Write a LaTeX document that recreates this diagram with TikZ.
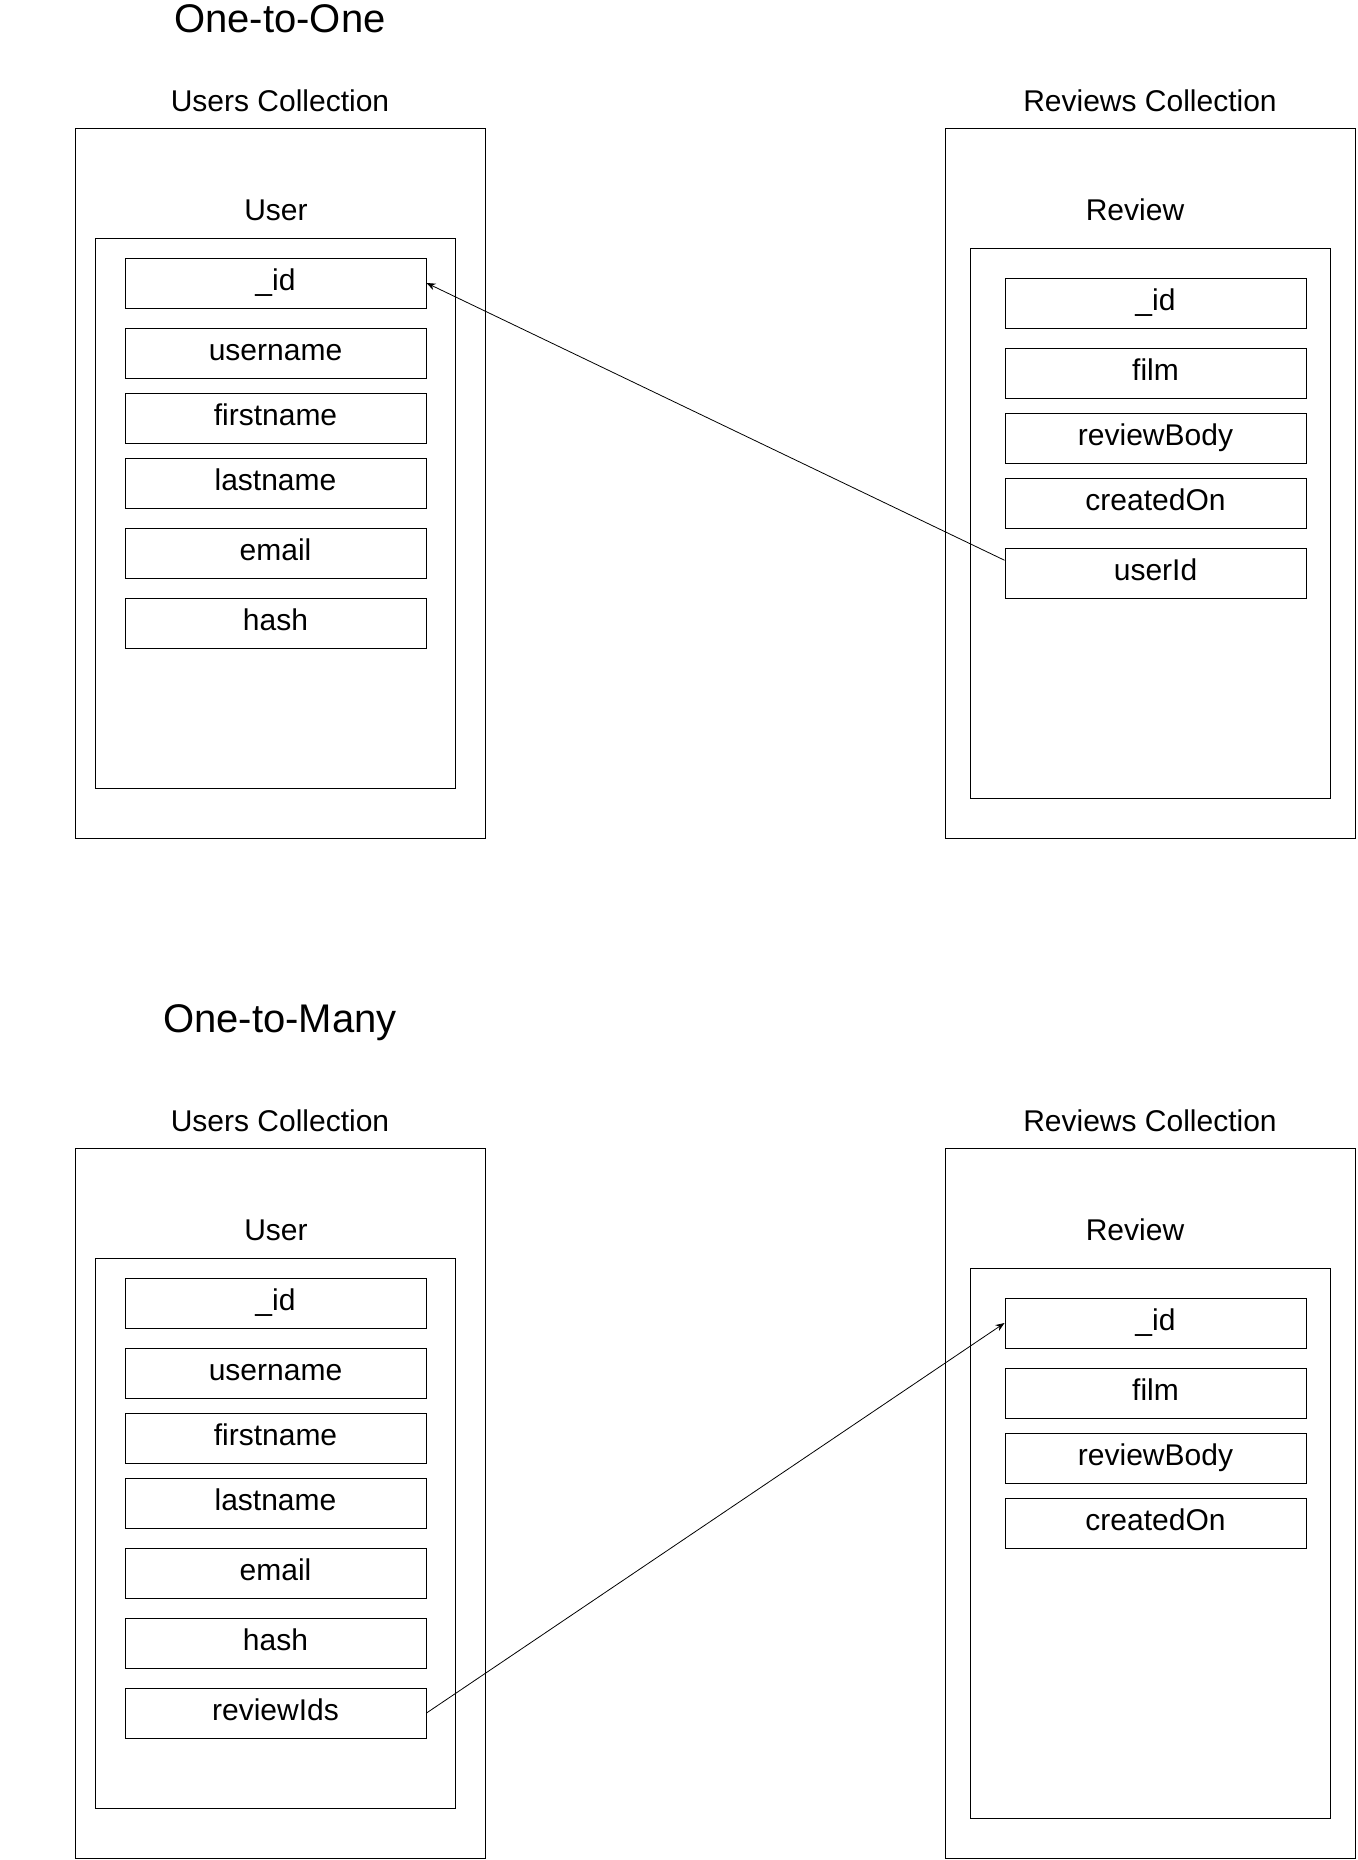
\documentclass[tikz,border=0pt]{standalone}
\usepackage{fontspec}
\setmainfont{Liberation Sans}
\usetikzlibrary{arrows.meta,calc}

\tikzset{
  coll/.style={draw, line width=1pt, inner sep=0pt, minimum width=410pt, minimum height=710pt},
  doc/.style={draw, line width=1pt, inner sep=0pt, minimum width=360pt, minimum height=550pt},
  field/.style={draw, line width=1pt, inner sep=0pt, minimum width=301pt, minimum height=50pt,
    text height=21pt, text depth=6pt, font=\fontsize{30}{36}\selectfont},
  lbl/.style={anchor=base, inner sep=0pt, font=\fontsize{30}{36}\selectfont},
  ttl/.style={anchor=base, inner sep=0pt, font=\fontsize{40}{48}\selectfont},
  ref/.style={-{Stealth[length=9pt,width=7pt]}, line width=0.8pt}
}

\begin{document}
\begin{tikzpicture}[x=1pt, y=-1pt]
    \useasboundingbox (0,0) rectangle (1357,1860);
    % One-to-One
    \node[ttl] (titleA) at (280,33) {One-to-One};
    \node[lbl] (usersLblA) at (280,111) {Users Collection};
    \node[lbl] (reviewsLblA) at (1150,111) {Reviews Collection};
    \node[coll] (usersA) at (280,483) {};
    \node[coll] (reviewsA) at (1150,483) {};
    \node[lbl] (userLblA) at (276,220) {User};
    \node[lbl] (reviewLblA) at (1135,220) {Review};
    \node[doc] (userA) at (275.5,513) {};
    \node[doc] (reviewA) at (1150,523) {};
    % User fields
    \node[field] (uIdA) at (275.5,283) {\_id};
    \node[field] (uNameA) at (275.5,353) {username};
    \node[field] (uFirstA) at (275.5,418) {firstname};
    \node[field] (uLastA) at (275.5,483) {lastname};
    \node[field] (uMailA) at (275.5,553) {email};
    \node[field] (uHashA) at (275.5,623) {hash};
    % Review fields
    \node[field] (rIdA) at (1155.5,303) {\_id};
    \node[field] (rFilmA) at (1155.5,373) {film};
    \node[field] (rBodyA) at (1155.5,438) {reviewBody};
    \node[field] (rDateA) at (1155.5,503) {createdOn};
    \node[field] (rUserA) at (1155.5,573) {userId};
    \draw[ref] ($(rUserA.north west)!0.25!(rUserA.south west)$) -- (uIdA.east);

    % One-to-Many
    \node[ttl] (titleB) at (280,1032) {One-to-Many};
    \node[lbl] (usersLblB) at (280,1131) {Users Collection};
    \node[lbl] (reviewsLblB) at (1150,1131) {Reviews Collection};
    \node[coll] (usersB) at (280,1503) {};
    \node[coll] (reviewsB) at (1150,1503) {};
    \node[lbl] (userLblB) at (276,1240) {User};
    \node[lbl] (reviewLblB) at (1135,1240) {Review};
    \node[doc] (userB) at (275.5,1533) {};
    \node[doc] (reviewB) at (1150,1543) {};
    % User fields
    \node[field] (uIdB) at (275.5,1303) {\_id};
    \node[field] (uNameB) at (275.5,1373) {username};
    \node[field] (uFirstB) at (275.5,1438) {firstname};
    \node[field] (uLastB) at (275.5,1503) {lastname};
    \node[field] (uMailB) at (275.5,1573) {email};
    \node[field] (uHashB) at (275.5,1643) {hash};
    \node[field] (uRevsB) at (275.5,1713) {reviewIds};
    % Review fields
    \node[field] (rIdB) at (1155.5,1323) {\_id};
    \node[field] (rFilmB) at (1155.5,1393) {film};
    \node[field] (rBodyB) at (1155.5,1458) {reviewBody};
    \node[field] (rDateB) at (1155.5,1523) {createdOn};
    \draw[ref] (uRevsB.east) -- (rIdB.west);
\end{tikzpicture}
\end{document}
